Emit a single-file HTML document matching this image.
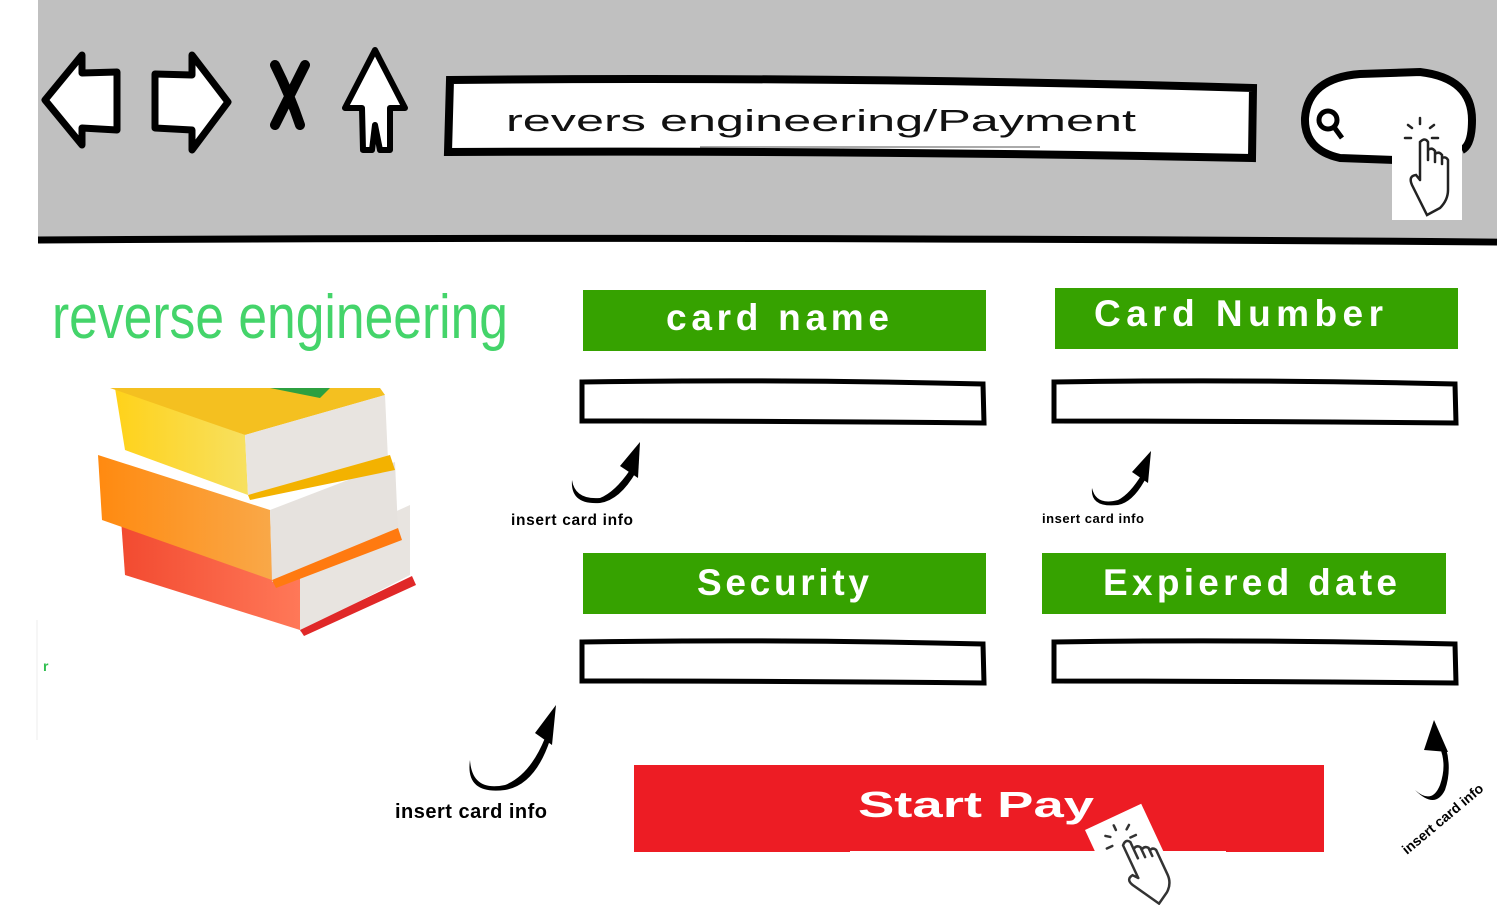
<!DOCTYPE html>
<html><head><meta charset="utf-8"><style>
html,body{margin:0;padding:0;background:#fff;}
svg{display:block}
</style></head><body>
<svg width="1500" height="905" viewBox="0 0 1500 905" xmlns="http://www.w3.org/2000/svg" font-family="Liberation Sans, sans-serif">
<defs>
<linearGradient id="yel" x1="0" y1="0" x2="1" y2="0"><stop offset="0" stop-color="#ffd21a"/><stop offset="1" stop-color="#f7e060"/></linearGradient>
<linearGradient id="org" x1="0" y1="0" x2="1" y2="0"><stop offset="0" stop-color="#ff8a10"/><stop offset="1" stop-color="#f9a848"/></linearGradient>
<linearGradient id="red" x1="0" y1="0" x2="1" y2="0"><stop offset="0" stop-color="#f24a30"/><stop offset="1" stop-color="#ff7858"/></linearGradient>
</defs>
<rect x="38" y="0" width="1459" height="238" fill="#c0c0c0"/>
<path d="M38 240 Q700 236 1497 242" stroke="#000" stroke-width="7" fill="none"/>
<path d="M82 55 L45 100 L82 145 L82 128 L117 130 L117 72 L82 73 Z" fill="#fff" stroke="#000" stroke-width="7" stroke-linejoin="round"/>
<path d="M192 55 L228 102 L192 150 L192 130 L155 128 L155 74 L192 75 Z" fill="#fff" stroke="#000" stroke-width="7" stroke-linejoin="round"/>
<path d="M275 65 Q290 95 300 125 M305 65 Q290 95 275 125" stroke="#000" stroke-width="10" fill="none" stroke-linecap="round"/>
<path d="M375 50 L345 108 L362 108 L363 150 L372 150 L375 125 L380 150 L390 150 L390 108 L405 108 Z" fill="#fff" stroke="#000" stroke-width="6" stroke-linejoin="round"/>
<path d="M450 80 Q850 76 1253 88 L1252 158 Q850 150 448 152 Z" fill="#fff" stroke="#000" stroke-width="8"/>
<text x="506" y="131" font-size="31" fill="#111" textLength="630" lengthAdjust="spacingAndGlyphs">revers engineering/Payment</text>
<line x1="700" y1="147" x2="1040" y2="147" stroke="#555" stroke-width="1"/>
<path d="M1395 160 L1340 158 Q1304 150 1305 118 Q1308 78 1360 74 L1420 72 Q1472 78 1472 120 Q1472 145 1462 150" fill="#fff" stroke="#000" stroke-width="8"/>
<circle cx="1328" cy="120" r="9" fill="none" stroke="#000" stroke-width="5"/>
<line x1="1334" y1="127" x2="1342" y2="138" stroke="#000" stroke-width="5"/>
<rect x="1392" y="112" width="70" height="108" fill="#fff"/>
<g stroke="#222" stroke-width="2.5" fill="none" stroke-linecap="round">
<path d="M1420 118 v6 M1408 125 l4 3 M1434 125 l-4 3 M1405 138 h6 M1432 138 h6"/>
<path d="M1420 180 V142 q5 -5 8 0 V160 M1428 150 q4 -3 7 1 V162 M1435 154 q4 -3 7 1 V164 M1442 158 q4 -2 6 2 V190 q0 10 -8 18 L1427 215 L1412 185 Q1408 176 1416 175 L1420 180"/>
</g>
<text x="52" y="338" font-size="62" fill="#44d46a" font-family="Liberation Sans Narrow, Liberation Sans, sans-serif" textLength="456" lengthAdjust="spacingAndGlyphs">reverse engineering</text>
<text x="43" y="671" font-size="14" fill="#2fbf4f" font-weight="bold">r</text>
<line x1="37" y1="620" x2="37" y2="740" stroke="#eee" stroke-width="1"/>
<g>
<polygon points="120,505 300,555 300,630 125,575" fill="url(#red)"/>
<polygon points="300,555 410,505 410,575 300,632" fill="#e8e4e0"/>
<polygon points="300,630 412,576 416,585 304,636" fill="#e02828"/>
<polygon points="98,455 270,510 272,580 102,520" fill="url(#org)"/>
<polygon points="270,510 395,462 398,530 272,582" fill="#e6e2de"/>
<polygon points="272,580 398,528 402,540 276,588" fill="#ff7a10"/>
<polygon points="115,388 245,435 248,495 125,450" fill="url(#yel)"/>
<polygon points="110,388 380,388 385,395 245,435" fill="#f4c020"/>
<polygon points="245,435 385,395 388,460 248,495" fill="#e8e4e0"/>
<polygon points="248,495 390,455 395,470 250,500" fill="#f3b200"/>
<polygon points="270,388 330,388 320,398" fill="#2ca040"/>
</g>
<g fill="#36a200">
<rect x="583" y="290" width="403" height="61"/>
<rect x="1055" y="288" width="403" height="61"/>
<rect x="583" y="553" width="403" height="61"/>
<rect x="1042" y="553" width="404" height="61"/>
</g>
<g fill="#fff" font-weight="bold" font-size="37" lengthAdjust="spacingAndGlyphs">
<text x="666" y="330" textLength="223">card name</text>
<text x="1094" y="326" textLength="289">Card Number</text>
<text x="697" y="595" textLength="172">Security</text>
<text x="1103" y="595" textLength="294">Expiered date</text>
</g>
<g fill="#fff" stroke="#000" stroke-width="5">
<path d="M582 382 Q780 379 983 384 L984 423 Q780 421 582 421 Z"/>
<path d="M1054 382 Q1250 379 1455 384 L1456 423 Q1250 421 1054 421 Z"/>
<path d="M582 642 Q780 639 983 644 L984 683 Q780 681 582 681 Z"/>
<path d="M1054 642 Q1250 639 1455 644 L1456 683 Q1250 681 1054 681 Z"/>
</g>
<g fill="#000">
<path d="M572 480 Q575 500 600 498 Q615 492 630 470 L636 472 Q620 500 600 503 Q570 505 572 480 Z"/>
<polygon points="640,442 638,478 620,466"/>
<path d="M1092 488 Q1096 506 1118 500 Q1130 494 1142 474 L1147 476 Q1134 502 1118 505 Q1090 508 1092 488 Z"/>
<polygon points="1151,451 1148,483 1132,472"/>
<path d="M470 760 Q472 792 505 785 Q530 775 545 738 L550 740 Q535 785 505 790 Q465 795 470 760 Z"/>
<polygon points="556,705 552,745 535,733"/>
<path d="M1415 790 Q1432 805 1440 785 Q1447 765 1440 748 L1446 748 Q1452 770 1445 790 Q1435 810 1415 790 Z"/>
<polygon points="1434,720 1448,752 1424,750"/>
</g>
<g font-weight="bold" fill="#000" lengthAdjust="spacingAndGlyphs">
<text x="511" y="525" font-size="15.5" textLength="122">insert card info</text>
<text x="1042" y="523" font-size="13" textLength="102">insert card info</text>
<text x="395" y="818" font-size="20" textLength="152">insert card info</text>
<text x="0" y="0" font-size="14" transform="translate(1407 855) rotate(-40)">insert card info</text>
</g>
<rect x="634" y="765" width="690" height="87" fill="#ed1c24"/>
<rect x="850" y="851" width="376" height="4" fill="#fff"/>
<text x="858" y="817" font-size="36" font-weight="bold" fill="#fff" textLength="236" lengthAdjust="spacingAndGlyphs">Start Pay</text>
<g transform="translate(1085 830) rotate(-25)">
<rect x="0" y="0" width="62" height="95" fill="#fff"/>
<g stroke="#333" stroke-width="2.5" fill="none" stroke-linecap="round">
<path d="M28 8 v5 M16 14 l4 3 M42 14 l-4 3 M12 26 h6 M38 26 h6"/>
<path d="M28 66 V30 q5 -5 8 0 V48 M36 38 q4 -3 7 1 V50 M43 42 q4 -3 7 1 V52 M50 46 q4 -2 6 2 V75 q0 10 -8 16 L36 98 L20 70 Q16 62 24 61 L28 66"/>
</g>
</g>
</svg>
</body></html>
